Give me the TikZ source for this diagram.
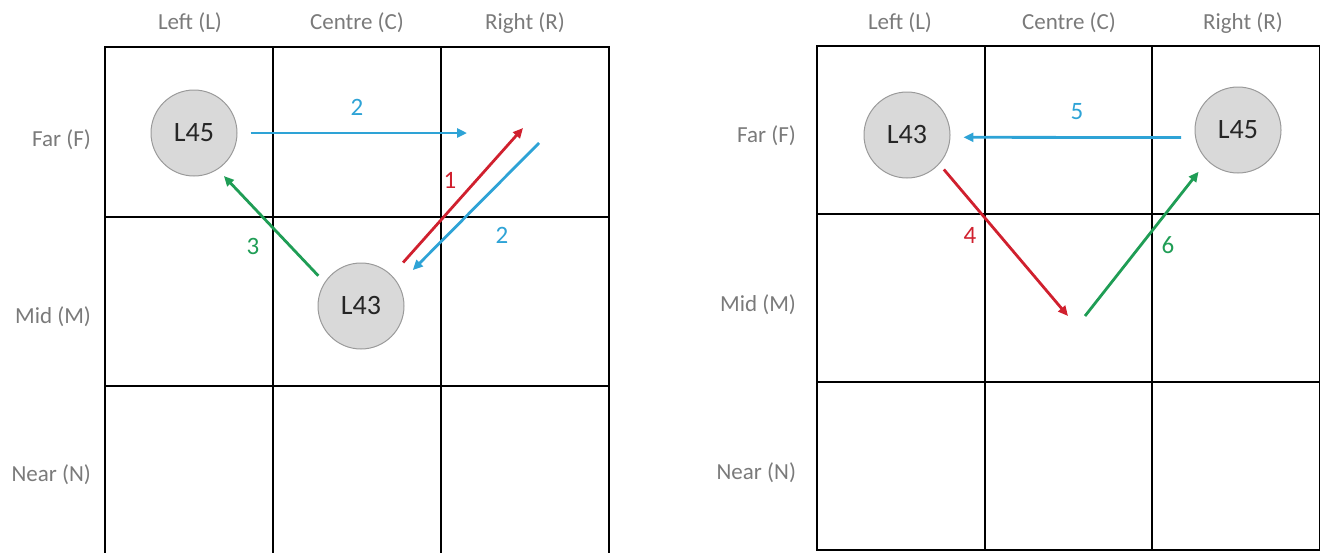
\documentclass[tikz,border=0pt]{standalone}
\usepackage{fontspec}
\setmainfont{Carlito}
\usepackage{xcolor}
\usepackage{tikz}
\usetikzlibrary{arrows.meta}
\definecolor{armblue}{HTML}{2EA3D6}
\definecolor{armred}{HTML}{D0202E}
\definecolor{armgreen}{HTML}{1F9D55}
\definecolor{axisgrey}{HTML}{7A7A7A}
\definecolor{ballfill}{HTML}{D9D9D9}
\definecolor{ballrim}{HTML}{9A9A9A}

\begin{document}
\begin{tikzpicture}[x=0.5pt, y=-0.5pt,
    ball/.style={circle, draw=ballrim, fill=ballfill, line width=0.5pt, minimum size=43pt, inner sep=0pt, text=black!85, font=\fontsize{14}{16}\selectfont},
    axislabel/.style={text=axisgrey, font=\fontsize{11.5}{13}\selectfont},
    move/.style={line width=1.4pt, -{Triangle[length=5pt, width=4.5pt]}},
    movenum/.style={font=\fontsize{12.5}{14}\selectfont}]
      \useasboundingbox (0,0) rectangle (1320,552);

      % left board
      \foreach \c in {0,1,2}
        \foreach \r in {0,1,2}
          \draw[line width=1pt] ({105+168*\c},{47+169.5*\r}) rectangle ++(168,169.5);
      \node[axislabel] (lcol1) at (190,23) {Left (L)};
      \node[axislabel] (lcol2) at (357,23) {Centre (C)};
      \node[axislabel] (lcol3) at (525,23) {Right (R)};
      \node[axislabel, anchor=east] (lrow1) at (98,140) {Far (F)};
      \node[axislabel, anchor=east] (lrow2) at (98,317) {Mid (M)};
      \node[axislabel, anchor=east] (lrow3) at (98,475) {Near (N)};

      \node[ball] (l45a) at (194,133) {L45};
      \node[ball] (l43a) at (361,306) {L43};
      \coordinate (b2end) at (467,133);
      \coordinate (r1end) at (523,128);
      \coordinate (b2start) at (539,143);

      \draw[move, armblue, shorten <=6.5pt] (l45a.east) -- (b2end);
      \draw[move, armred, shorten <=8.5pt] (l43a.north east) -- (r1end);
      \draw[move, armblue, shorten >=10pt] (b2start) -- (l43a.30);
      \draw[move, armgreen, shorten <=4.5pt, shorten >=4.5pt] (l43a.147) -- (l45a.-57);
      \node[movenum, text=armblue] (n2a) at (357,107) {2};
      \node[movenum, text=armred] (n1) at (450,180) {1};
      \node[movenum, text=armblue] (n2b) at (502,235) {2};
      \node[movenum, text=armgreen] (n3) at (253,246) {3};

      % right board
      \foreach \c in {0,1,2}
        \foreach \r in {0,1,2}
          \draw[line width=1pt] ({817+167.5*\c},{46+168*\r}) rectangle ++(167.5,168);
      \node[axislabel] (rcol1) at (900,23) {Left (L)};
      \node[axislabel] (rcol2) at (1069,23) {Centre (C)};
      \node[axislabel] (rcol3) at (1243,23) {Right (R)};
      \node[axislabel, anchor=east] (rrow1) at (803,136) {Far (F)};
      \node[axislabel, anchor=east] (rrow2) at (803,305) {Mid (M)};
      \node[axislabel, anchor=east] (rrow3) at (803,473) {Near (N)};

      \node[ball] (l43b) at (907,135) {L43};
      \node[ball] (l45b) at (1238,130) {L45};
      \coordinate (r4end) at (1068,316);
      \coordinate (g6start) at (1085,316);

      \draw[move, armblue, shorten <=7pt, shorten >=6.5pt] (l45b.190) -- (l43b.-3);
      \draw[move, armred, shorten <=3.5pt] (l43b.-42) -- (r4end);
      \draw[move, armgreen, shorten >=7pt] (g6start) -- (l45b.225);
      \node[movenum, text=armblue] (n5) at (1077,112) {5};
      \node[movenum, text=armred] (n4) at (970,235) {4};
      \node[movenum, text=armgreen] (n6) at (1168,245) {6};
    \end{tikzpicture}
\end{document}
